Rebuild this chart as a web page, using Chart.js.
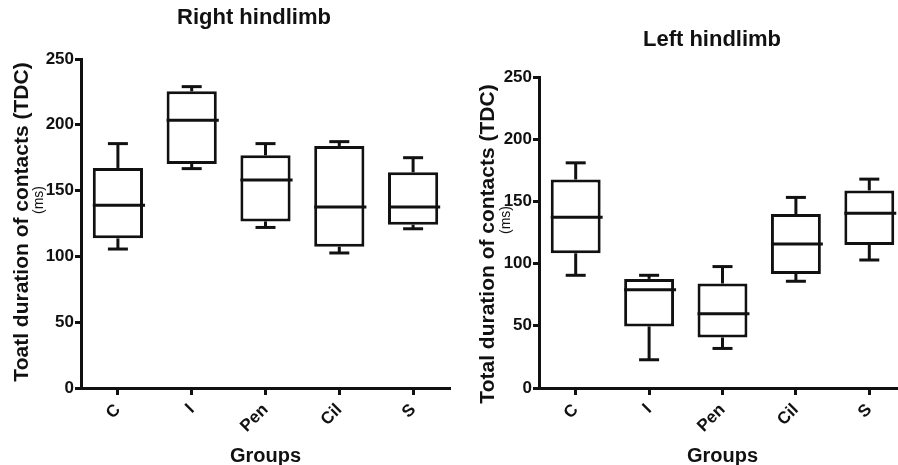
<!DOCTYPE html>
<html lang="en">
<head>
  <meta charset="UTF-8">
  <title>Total duration of contacts</title>
  <script src="https://cdn.jsdelivr.net/npm/chart.js"></script>
  <style>
    body {
      margin: 0;
      width: 898px;
      height: 465px;
      overflow: hidden;
      position: relative;
      background: #fff;
      font-family: "Liberation Sans", Arial, sans-serif;
    }
    .panel {
      position: absolute;
      top: 0;
      width: 455px;
      height: 465px;
    }
    #rightPanel { left: 0; }
    #leftPanel { left: 455px; }
  </style>
</head>
<body>
  <div class="panel" id="rightPanel"><canvas id="rightChart"></canvas></div>
  <div class="panel" id="leftPanel"><canvas id="leftChart"></canvas></div>

  <script>
    const groups = ['C', 'I', 'Pen', 'Cil', 'S'];
    const yTicks = [0, 50, 100, 150, 200, 250];

    // Right hindlimb (min, Q1, median, Q3, max)
    const rightMin = [105.6, 166.7, 122.0, 102.6, 121.0];
    const rightQ1  = [113.7, 170.2, 126.6, 107.4, 124.1];
    const rightMed = [138.8, 203.4, 158.0, 137.5, 137.5];
    const rightQ3  = [167.2, 225.4, 176.8, 183.9, 163.9];
    const rightMax = [185.7, 229.0, 185.7, 187.2, 175.0];

    // Left hindlimb
    const leftMin = [90.6, 22.7, 31.8, 85.8, 102.9];
    const leftQ1  = [108.3, 49.5, 40.6, 91.7, 115.0];
    const leftMed = [137.2, 78.9, 59.6, 115.8, 140.4];
    const leftQ3  = [167.6, 87.7, 84.0, 139.8, 158.8];
    const leftMax = [181.0, 90.6, 97.6, 153.2, 167.9];

    const ink = '#111';
    const FONT = '"Liberation Sans", Arial, sans-serif';

    // whiskers, caps and median lines drawn through the chart's scales
    const boxPlugin = {
      id: 'boxExtras',
      afterDatasetsDraw(chart, args, opts) {
        const ctx = chart.ctx;
        const y = chart.scales.y;
        const meta = chart.getDatasetMeta(0);
        ctx.save();
        ctx.strokeStyle = ink;
        ctx.lineWidth = 3;
        ctx.lineCap = 'butt';
        meta.data.forEach((bar, i) => {
          const x = bar.x;
          const half = bar.width / 2;
          const cap = opts.cap / 2;
          const line = (x1, y1, x2, y2) => {
            ctx.beginPath();
            ctx.moveTo(x1, y1);
            ctx.lineTo(x2, y2);
            ctx.stroke();
          };
          line(x, y.getPixelForValue(opts.q3[i]), x, y.getPixelForValue(opts.max[i]));
          line(x, y.getPixelForValue(opts.q1[i]), x, y.getPixelForValue(opts.min[i]));
          line(x - cap, y.getPixelForValue(opts.max[i]), x + cap, y.getPixelForValue(opts.max[i]));
          line(x - cap, y.getPixelForValue(opts.min[i]), x + cap, y.getPixelForValue(opts.min[i]));
          line(x - half, y.getPixelForValue(opts.med[i]), x + half + 2, y.getPixelForValue(opts.med[i]));
        });
        ctx.restore();
      }
    };

    // chart title, y-axis title and unit line
    const textPlugin = {
      id: 'panelText',
      afterDraw(chart, args, opts) {
        const ctx = chart.ctx;
        ctx.save();
        ctx.fillStyle = ink;
        ctx.textAlign = 'center';
        ctx.textBaseline = 'middle';
        ctx.font = 'bold 22px ' + FONT;
        ctx.fillText(opts.title, opts.titleX, opts.titleY);

        ctx.translate(opts.yTitleX, opts.yTitleY);
        ctx.rotate(-Math.PI / 2);
        ctx.font = 'bold 21px ' + FONT;
        ctx.fillText(opts.yTitle, 0, 0);
        ctx.font = '14px ' + FONT;
        ctx.fillText('(ms)', opts.msShift, opts.msX - opts.yTitleX);
        ctx.restore();
      }
    };

    function makeChart(id, q1, med, q3, min, max, text, pad, yWidth) {
      return new Chart(document.getElementById(id), {
        type: 'bar',
        data: {
          labels: groups,
          datasets: [{
            data: groups.map((g, i) => [q1[i], q3[i]]),
            backgroundColor: '#fff',
            borderColor: ink,
            borderWidth: 3,
            borderSkipped: false,
            barPercentage: 0.68,
            categoryPercentage: 1
          }]
        },
        options: {
          responsive: true,
          maintainAspectRatio: false,
          animation: false,
          layout: { padding: pad },
          plugins: {
            legend: { display: false },
            tooltip: { enabled: false },
            boxExtras: { q1, med, q3, min, max, cap: 20 },
            panelText: text
          },
          scales: {
            x: {
              offset: true,
              afterFit(scale) { scale.height = 77; },
              grid: { offset: false, drawOnChartArea: false, drawTicks: true, tickLength: 7, tickWidth: 3, tickColor: ink },
              border: { display: true, width: 3, color: ink },
              ticks: {
                color: ink,
                minRotation: 45,
                maxRotation: 45,
                padding: 5,
                font: { family: FONT, size: 17, weight: 'bold' }
              },
              title: {
                display: true,
                text: 'Groups',
                color: ink,
                padding: { top: 0, bottom: -3 },
                font: { family: FONT, size: 20, weight: 'bold' }
              }
            },
            y: {
              min: 0,
              max: 250,
              afterFit(scale) { scale.width = yWidth; },
              afterBuildTicks(scale) { scale.ticks = yTicks.map(v => ({ value: v })); },
              grid: { drawOnChartArea: false, drawTicks: true, tickLength: 6, tickWidth: 3, tickColor: ink },
              border: { display: true, width: 3, color: ink },
              ticks: {
                color: ink,
                padding: 1,
                font: { family: FONT, size: 17, weight: 'bold' }
              }
            }
          }
        },
        plugins: [boxPlugin, textPlugin]
      });
    }

    makeChart('rightChart', rightQ1, rightMed, rightQ3, rightMin, rightMax, {
      title: 'Right hindlimb', titleX: 254, titleY: 18,
      yTitle: 'Toatl duration of contacts (TDC)', yTitleX: 22, yTitleY: 222,
      msX: 39, msShift: 22
    }, { top: 59, right: 5, bottom: 0, left: 0 }, 81);

    makeChart('leftChart', leftQ1, leftMed, leftQ3, leftMin, leftMax, {
      title: 'Left hindlimb', titleX: 257, titleY: 40,
      yTitle: 'Total duration of contacts (TDC)', yTitleX: 33, yTitleY: 244,
      msX: 51, msShift: 24
    }, { top: 77, right: 4, bottom: 0, left: 0 }, 84);
  </script>
</body>
</html>
